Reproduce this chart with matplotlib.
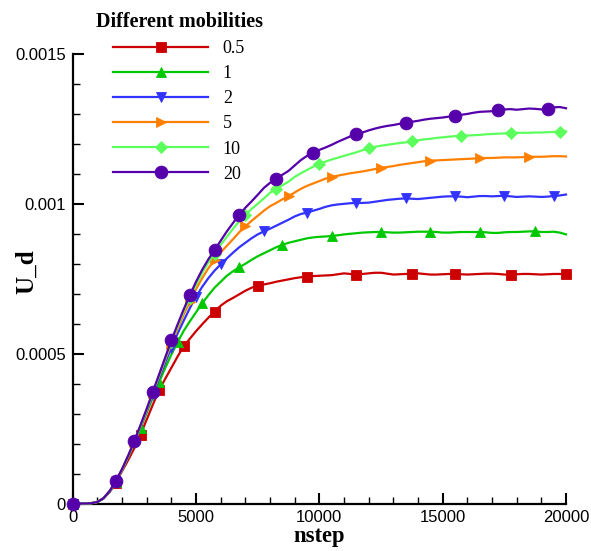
import numpy as np
import matplotlib
matplotlib.use("Agg")
import matplotlib.pyplot as plt
from matplotlib.lines import Line2D
from matplotlib.ticker import FixedLocator, FixedFormatter, MultipleLocator
from matplotlib.font_manager import FontProperties

# Sampling positions (time steps)
nstep = np.arange(0, 20001, 250)

mobility_labels = ["0.5", "1", "2", "5", "10", "20"]

# Drift velocity U_d, in units of 1e-4, one value per sampled step
ud_05 = [0, 0, 0, 0.01, 0.05, 0.17, 0.38, 0.70,
         1.08, 1.45, 1.85, 2.30, 2.80, 3.30, 3.78, 4.16,
         4.53, 4.90, 5.25, 5.50, 5.75, 5.98, 6.20, 6.40,
         6.60, 6.75, 6.86, 6.98, 7.10, 7.20, 7.27, 7.31,
         7.35, 7.40, 7.44, 7.48, 7.52, 7.55, 7.57, 7.59,
         7.60, 7.61, 7.62, 7.65, 7.68, 7.66, 7.64, 7.66,
         7.68, 7.70, 7.70, 7.67, 7.64, 7.65, 7.66, 7.67,
         7.68, 7.66, 7.64, 7.64, 7.65, 7.66, 7.66, 7.65,
         7.64, 7.65, 7.66, 7.67, 7.67, 7.66, 7.64, 7.64,
         7.65, 7.66, 7.66, 7.65, 7.64, 7.65, 7.66, 7.66,
         7.65]
ud_1 = [0, 0, 0, 0.01, 0.05, 0.17, 0.40, 0.72,
        1.12, 1.55, 2.02, 2.52, 3.03, 3.54, 4.04, 4.52,
        4.97, 5.38, 5.76, 6.08, 6.38, 6.68, 6.95, 7.20,
        7.40, 7.60, 7.75, 7.88, 8.00, 8.13, 8.25, 8.35,
        8.45, 8.55, 8.63, 8.70, 8.75, 8.80, 8.85, 8.88,
        8.90, 8.91, 8.93, 8.95, 8.98, 9.00, 9.02, 9.04,
        9.05, 9.06, 9.06, 9.05, 9.04, 9.04, 9.05, 9.06,
        9.07, 9.07, 9.07, 9.06, 9.04, 9.04, 9.05, 9.06,
        9.06, 9.06, 9.06, 9.05, 9.03, 9.03, 9.05, 9.06,
        9.06, 9.07, 9.08, 9.08, 9.06, 9.06, 9.07, 9.04,
        8.98]
ud_2 = [0, 0, 0, 0.01, 0.05, 0.17, 0.40, 0.73,
        1.13, 1.57, 2.05, 2.56, 3.09, 3.63, 4.17, 4.70,
        5.20, 5.67, 6.10, 6.52, 6.90, 7.23, 7.52, 7.77,
        7.98, 8.18, 8.37, 8.55, 8.70, 8.85, 8.98, 9.08,
        9.17, 9.27, 9.37, 9.47, 9.58, 9.66, 9.71, 9.77,
        9.83, 9.90, 9.95, 9.98, 10.00, 10.02, 10.03, 10.03,
        10.04, 10.07, 10.10, 10.13, 10.15, 10.17, 10.18, 10.17,
        10.16, 10.18, 10.20, 10.22, 10.24, 10.25, 10.25, 10.24,
        10.22, 10.24, 10.26, 10.26, 10.25, 10.26, 10.27, 10.25,
        10.23, 10.24, 10.25, 10.24, 10.23, 10.24, 10.26, 10.28,
        10.31]
ud_5 = [0, 0, 0, 0.01, 0.05, 0.18, 0.41, 0.74,
        1.14, 1.58, 2.06, 2.58, 3.12, 3.68, 4.24, 4.80,
        5.33, 5.83, 6.30, 6.74, 7.15, 7.52, 7.85, 8.13,
        8.38, 8.60, 8.82, 9.05, 9.25, 9.43, 9.60, 9.77,
        9.92, 10.03, 10.15, 10.25, 10.38, 10.50, 10.60, 10.68,
        10.76, 10.84, 10.90, 10.94, 10.98, 11.02, 11.05, 11.08,
        11.12, 11.16, 11.20, 11.23, 11.26, 11.30, 11.33, 11.36,
        11.39, 11.42, 11.44, 11.45, 11.46, 11.47, 11.48, 11.49,
        11.50, 11.51, 11.52, 11.53, 11.53, 11.54, 11.55, 11.55,
        11.55, 11.56, 11.57, 11.57, 11.57, 11.58, 11.59, 11.59,
        11.58]
ud_10 = [0, 0, 0, 0.01, 0.05, 0.18, 0.41, 0.74,
         1.14, 1.58, 2.07, 2.60, 3.14, 3.70, 4.27, 4.84,
         5.39, 5.91, 6.41, 6.87, 7.30, 7.70, 8.04, 8.34,
         8.63, 8.90, 9.17, 9.42, 9.63, 9.83, 10.00, 10.18,
         10.37, 10.50, 10.62, 10.74, 10.90, 11.02, 11.13, 11.24,
         11.33, 11.41, 11.48, 11.54, 11.60, 11.66, 11.72, 11.79,
         11.85, 11.90, 11.94, 11.97, 12.00, 12.03, 12.05, 12.09,
         12.12, 12.15, 12.17, 12.20, 12.22, 12.24, 12.26, 12.27,
         12.28, 12.29, 12.30, 12.32, 12.33, 12.34, 12.35, 12.36,
         12.37, 12.37, 12.37, 12.38, 12.38, 12.39, 12.40, 12.41,
         12.42]
ud_20 = [0, 0, 0, 0.01, 0.05, 0.18, 0.42, 0.75,
         1.15, 1.60, 2.09, 2.62, 3.16, 3.73, 4.30, 4.87,
         5.44, 5.97, 6.48, 6.95, 7.40, 7.80, 8.15, 8.45,
         8.77, 9.08, 9.36, 9.63, 9.87, 10.08, 10.30, 10.53,
         10.70, 10.83, 10.97, 11.10, 11.28, 11.46, 11.60, 11.71,
         11.80, 11.88, 11.97, 12.07, 12.16, 12.25, 12.32, 12.38,
         12.45, 12.51, 12.56, 12.60, 12.63, 12.67, 12.71, 12.74,
         12.77, 12.81, 12.84, 12.86, 12.88, 12.91, 12.94, 12.97,
         13.00, 13.04, 13.07, 13.08, 13.09, 13.12, 13.15, 13.16,
         13.14, 13.16, 13.18, 13.17, 13.15, 13.18, 13.22, 13.23,
         13.19]

# Steps at which a symbol is drawn on each curve
symbol_steps_05 = [0, 1750, 2750, 3500, 4500, 5750, 7500, 9500, 11500, 13750,
                   15500, 17750, 20000]
symbol_steps_1 = [0, 1750, 2750, 3500, 4250, 5250, 6750, 8500, 10500, 12500,
                  14500, 16500, 18750]
symbol_steps_2 = [0, 1750, 2500, 3250, 4000, 5000, 6000, 7750, 9500, 11500,
                  13500, 15500, 17500, 19500]
symbol_steps_5 = [0, 1750, 2500, 3250, 4000, 4750, 5750, 7000, 8750, 10500,
                  12500, 14500, 16500, 18500]
symbol_steps_10 = [0, 1750, 2500, 3250, 4000, 4750, 5750, 7000, 8250, 10000,
                   12000, 13750, 15750, 17750, 19750]
symbol_steps_20 = [0, 1750, 2500, 3250, 4000, 4750, 5750, 6750, 8250, 9750,
                   11500, 13500, 15500, 17250, 19250]

series = [ud_05, ud_1, ud_2, ud_5, ud_10, ud_20]
symbol_steps = [symbol_steps_05, symbol_steps_1, symbol_steps_2,
                symbol_steps_5, symbol_steps_10, symbol_steps_20]
colors = ["#CC0000", "#00C800", "#3333FF", "#FF8000", "#5CFF5C", "#5500AA"]
markers = ["s", "^", "v", ">", "D", "o"]
marker_sizes = [7.2, 7.8, 7.8, 7.8, 6.2, 9.2]

x_ticks = [0, 5000, 10000, 15000, 20000]
x_tick_labels = ["0", "5000", "10000", "15000", "20000"]
y_ticks = [0, 0.0005, 0.001, 0.0015]
y_tick_labels = ["0", "0.0005", "0.001", "0.0015"]

W, H = 591, 551
fig = plt.figure(figsize=(W / 100, H / 100), dpi=100)
ax_l, ax_r, ax_t, ax_b = 72.7, 566.0, 54.0, 503.5
ax = fig.add_axes([ax_l / W, 1 - ax_b / H, (ax_r - ax_l) / W, (ax_b - ax_t) / H])

handles = []
for ys, steps, c, m, ms in zip(series, symbol_steps, colors, markers, marker_sizes):
    y = np.asarray(ys) * 1e-4
    every = [int(np.argmin(np.abs(nstep - s))) for s in steps]
    ax.plot(nstep, y, color=c, lw=1.6, marker=m, ms=ms, mfc=c, mec=c, mew=0.6,
            markevery=every, clip_on=False, zorder=3)
    handles.append(Line2D([], [], color=c, lw=1.6, marker=m, ms=ms, mfc=c, mec=c,
                          mew=0.6))

ax.set_xlim(0, 20000)
ax.set_ylim(0, 0.0015)

for side in ("top", "right"):
    ax.spines[side].set_visible(False)
for side in ("left", "bottom"):
    ax.spines[side].set_linewidth(1.6)
    ax.spines[side].set_color("black")

ax.xaxis.set_major_locator(FixedLocator(x_ticks))
ax.xaxis.set_major_formatter(FixedFormatter(x_tick_labels))
ax.xaxis.set_minor_locator(MultipleLocator(1000))
ax.yaxis.set_major_locator(FixedLocator(y_ticks))
ax.yaxis.set_major_formatter(FixedFormatter(y_tick_labels))
ax.yaxis.set_minor_locator(MultipleLocator(0.0001))

ax.tick_params(which="major", direction="in", length=8, width=1.5,
               labelsize=12, top=False, right=False)
ax.tick_params(which="minor", direction="in", length=5, width=1.0,
               top=False, right=False)
ax.tick_params(axis="x", which="major", pad=4.7)
ax.tick_params(axis="y", which="major", pad=5.0)
for lbl in ax.get_xticklabels() + ax.get_yticklabels():
    lbl.set_fontfamily("Liberation Sans")

ax.set_xlabel("nstep", fontfamily="Liberation Serif", fontweight="bold", fontsize=16.3)
ax.xaxis.set_label_coords(0.5, (ax_b - 541.7) / (ax_b - ax_t))
ax.xaxis.label.set_va("baseline")

ax.set_ylabel("U_d", fontfamily="Liberation Serif", fontweight="bold", fontsize=18)
ax.yaxis.set_label_coords((26.7 - ax_l) / (ax_r - ax_l), (ax_b - 272) / (ax_b - ax_t))
ax.yaxis.label.set_va("center")

leg = ax.legend(handles, mobility_labels, loc="upper left",
                bbox_to_anchor=(95.5 / W, 1 - 12 / H), bbox_transform=fig.transFigure,
                frameon=False, borderpad=0, borderaxespad=0,
                handlelength=5.29, handletextpad=0.8, labelspacing=0.45,
                numpoints=1,
                prop=FontProperties(family="Liberation Serif", size=13),
                title="Different mobilities",
                title_fontproperties=FontProperties(family="Liberation Serif",
                                                    weight="bold", size=14.5))

fig.savefig("out.png", dpi=100)
